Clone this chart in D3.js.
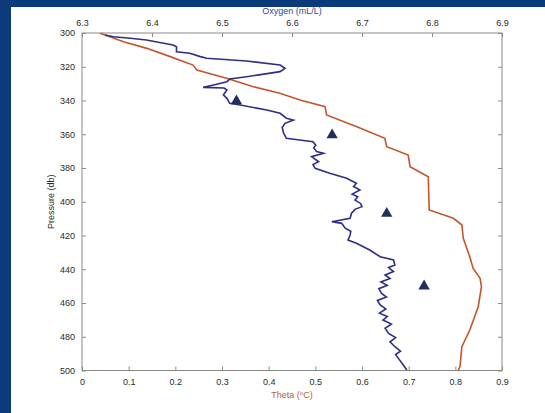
<!DOCTYPE html>
<html>
<head>
<meta charset="utf-8">
<script src="https://cdn.jsdelivr.net/npm/d3@7"></script>
<style>
  body { margin: 0; background: #0c3b7c; }
  svg { display: block; }
  text { font-family: "Liberation Sans", Arial, sans-serif; }
</style>
</head>
<body>
<div id="chart"></div>
<script>
// theta profile (orange, bottom axis)
var thetaP = [300.2, 305.2, 309.1, 314.0, 319.0, 321.9, 326.8, 331.8, 335.7, 339.7,
  343.7, 348.6, 355.5, 362.4, 367.4, 372.3, 379.2, 385.2, 404.9, 409.8, 413.8,
  421.7, 432.6, 439.4, 445.4, 450.3, 462.2, 476.0, 485.9, 497.7, 500];
var thetaV = [0.039, 0.089, 0.139, 0.189, 0.238, 0.246, 0.310, 0.367, 0.424, 0.467,
  0.521, 0.524, 0.589, 0.649, 0.653, 0.699, 0.703, 0.742, 0.744, 0.796, 0.814,
  0.817, 0.831, 0.838, 0.853, 0.856, 0.849, 0.831, 0.814, 0.810, 0.806];

// oxygen profile (blue, top axis)
var oxyP = [301.2, 302.2, 303.1, 304.1, 307.1, 308.1, 311.1, 312.0, 314.0, 315.0,
  316.6, 319.0, 320.9, 322.9, 325.9, 327.3, 328.9, 330.8, 332.2, 332.6, 333.8,
  336.7, 338.7, 341.7, 342.7, 345.6, 347.6, 350.5, 351.6, 353.5, 356.0, 359.4,
  362.4, 363.4, 364.4, 366.5, 368.0, 370.3, 371.3, 373.3, 376.3, 378.0, 380.2,
  383.1, 386.1, 389.1, 391.0, 393.0, 395.5, 397.0, 399.0, 401.0, 402.9, 404.5,
  406.8, 409.8, 411.8, 412.8, 415.7, 417.5, 419.7, 422.7, 424.6, 428.6, 432.6,
  434.5, 437.5, 439.0, 441.4, 443.4, 445.5, 447.5, 449.5, 451.5, 454.3, 456.5,
  458.5, 461.2, 463.5, 466.0, 468.0, 470.1, 472.5, 475.0, 478.0, 480.5, 483.0,
  485.9, 488.5, 490.5, 492.8, 496.7, 499.7];
var oxyV = [6.333, 6.345, 6.369, 6.392, 6.430, 6.435, 6.435, 6.454, 6.469, 6.478,
  6.535, 6.583, 6.590, 6.583, 6.535, 6.511, 6.507, 6.488, 6.473, 6.503, 6.507,
  6.502, 6.507, 6.511, 6.526, 6.564, 6.583, 6.592, 6.602, 6.590, 6.586, 6.588,
  6.592, 6.611, 6.630, 6.634, 6.631, 6.635, 6.645, 6.628, 6.638, 6.630, 6.633,
  6.654, 6.678, 6.692, 6.688, 6.697, 6.686, 6.694, 6.690, 6.698, 6.700, 6.690,
  6.685, 6.683, 6.657, 6.671, 6.676, 6.684, 6.683, 6.680, 6.692, 6.711, 6.726,
  6.745, 6.747, 6.738, 6.745, 6.733, 6.740, 6.727, 6.736, 6.724, 6.728, 6.735,
  6.722, 6.726, 6.734, 6.725, 6.736, 6.730, 6.742, 6.733, 6.738, 6.748, 6.740,
  6.747, 6.755, 6.748, 6.752, 6.759, 6.764];

// triangle markers (theta axis)
var markTheta = [0.331, 0.536, 0.653, 0.733];
var markP = [340.3, 360.4, 407.0, 450.0];

var thetaTicks = [0, 0.1, 0.2, 0.3, 0.4, 0.5, 0.6, 0.7, 0.8, 0.9];
var oxyTicks = [6.3, 6.4, 6.5, 6.6, 6.7, 6.8, 6.9];
var presTicks = [300, 320, 340, 360, 380, 400, 420, 440, 460, 480, 500];

var W = 545, H = 413;
var margin = { top: 33, right: 43, bottom: 42.5, left: 82 };
var width = W - margin.left - margin.right;
var height = H - margin.top - margin.bottom;

var svg = d3.select("#chart").append("svg")
  .attr("width", W)
  .attr("height", H);

// white panel on the blue slide
svg.append("rect")
  .attr("x", 11).attr("y", 7)
  .attr("width", W - 11).attr("height", H - 7)
  .attr("fill", "#ffffff");

var g = svg.append("g")
  .attr("transform", `translate(${margin.left}, ${margin.top})`);

var x = d3.scaleLinear().domain([0, 0.9]).range([0, width]);
var xo = d3.scaleLinear().domain([6.3, 6.9]).range([0, width]);
var y = d3.scaleLinear().domain([300, 500]).range([0, height]);

var axisColor = "#8a8a8a";

function styleAxis(sel) {
  sel.select(".domain").remove();
  sel.selectAll(".tick line").attr("stroke", axisColor);
  sel.selectAll(".tick text")
    .attr("fill", "#2a2a2a")
    .attr("font-size", "9px");
}

g.append("g")
  .attr("transform", `translate(0, ${height})`)
  .call(d3.axisBottom(x).tickValues(thetaTicks).tickFormat(d3.format("")).tickSizeInner(-4).tickPadding(8))
  .call(styleAxis);

g.append("g")
  .call(d3.axisTop(xo).tickValues(oxyTicks).tickFormat(d3.format(".1f")).tickSizeInner(-4).tickPadding(7))
  .call(styleAxis);

g.append("g")
  .call(d3.axisLeft(y).tickValues(presTicks).tickSizeInner(-4).tickPadding(7))
  .call(styleAxis);

g.append("g")
  .attr("transform", `translate(${width}, 0)`)
  .call(d3.axisRight(y).tickValues(presTicks).tickFormat("").tickSizeInner(-4))
  .call(styleAxis);

// box
g.append("rect")
  .attr("width", width).attr("height", height)
  .attr("fill", "none")
  .attr("stroke", axisColor)
  .attr("stroke-width", 1);

var thetaLine = d3.line()
  .x(function (d, i) { return x(thetaV[i]); })
  .y(function (d) { return y(d); });

var oxyLine = d3.line()
  .x(function (d, i) { return xo(oxyV[i]); })
  .y(function (d) { return y(d); });

g.append("path")
  .datum(thetaP)
  .attr("d", thetaLine)
  .attr("fill", "none")
  .attr("stroke", "#c4552a")
  .attr("stroke-width", 1.6);

g.append("path")
  .datum(oxyP)
  .attr("d", oxyLine)
  .attr("fill", "none")
  .attr("stroke", "#2d2f86")
  .attr("stroke-width", 1.6);

g.selectAll(".mark")
  .data(markP)
  .enter()
  .append("path")
  .attr("class", "mark")
  .attr("transform", function (d, i) { return `translate(${x(markTheta[i])}, ${y(d)})`; })
  .attr("d", d3.symbol().type(d3.symbolTriangle).size(55))
  .attr("fill", "#1f2f5e");

// axis titles
g.append("text")
  .attr("x", width / 2)
  .attr("y", -19)
  .attr("text-anchor", "middle")
  .attr("font-size", "9px")
  .attr("fill", "#3a4688")
  .text("Oxygen (mL/L)");

var tt = g.append("text")
  .attr("x", width / 2)
  .attr("y", height + 27)
  .attr("text-anchor", "middle")
  .attr("font-size", "9px")
  .attr("fill", "#b8602e");
tt.append("tspan").text("Theta (");
tt.append("tspan").attr("font-size", "6px").attr("dy", -3).text("o");
tt.append("tspan").attr("dy", 3).text("C)");

g.append("text")
  .attr("transform", "rotate(-90)")
  .attr("x", -height / 2)
  .attr("y", -28)
  .attr("text-anchor", "middle")
  .attr("font-size", "9px")
  .attr("fill", "#2a2a2a")
  .text("Pressure (db)");
</script>
</body>
</html>
